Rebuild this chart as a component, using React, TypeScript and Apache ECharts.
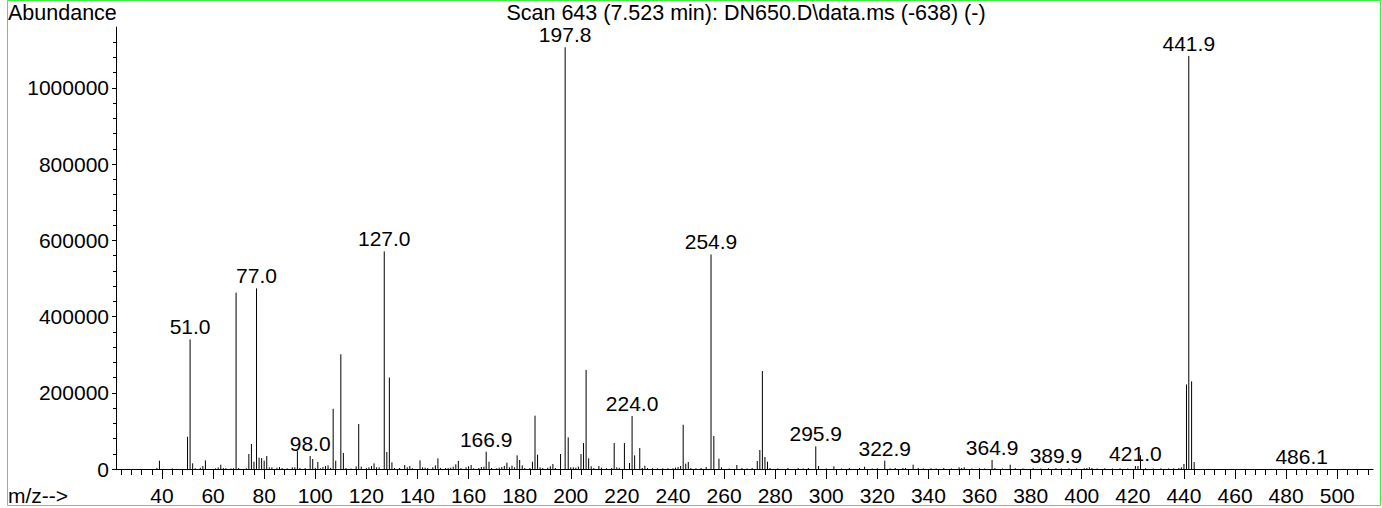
import React, { useEffect, useRef } from 'react';
import * as echarts from 'echarts';

// m/z of every stick in the spectrum
const mzValues = [
  38, 39, 44, 50, 51, 52, 53, 55, 56, 57, 61, 62, 63, 64, 65, 67, 68, 69, 70, 73,
  74, 75, 76, 77, 78, 79, 80, 81, 82, 83, 85, 86, 87, 89, 91, 92, 93, 94, 96, 98,
  99, 100, 101, 102, 103, 104, 105, 106, 107, 108, 110, 111, 112, 114, 116, 117, 118, 120, 121, 122,
  123, 124, 125, 127, 128, 129, 130, 131, 133, 135, 136, 137, 138, 141, 142, 143, 144, 146, 147, 148,
  149, 151, 152, 153, 154, 155, 156, 157, 159, 160, 161, 162, 164, 165, 166, 166.9, 168, 169, 171, 172,
  173, 174, 175, 176, 177, 178, 179, 180, 181, 182, 184, 185, 186, 187, 188, 189, 191, 192, 193, 194,
  196, 197.8, 199, 200, 201, 202, 203, 204, 205, 206, 207, 208, 209, 211, 212, 214, 216, 217, 218, 219,
  221, 223, 224, 225, 227, 228, 229, 230, 232, 234, 236, 238, 240, 241, 242, 243, 244, 245, 246, 247,
  249, 251, 253, 254.9, 256, 258, 259, 262, 265, 267, 269, 271, 273, 274, 275, 276, 277, 278, 281, 285,
  289, 291, 293, 295.9, 297, 300, 303, 306, 309, 313, 315, 318, 320, 322.9, 325, 327, 330, 331, 334, 336,
  338, 341, 343, 346, 349, 352, 353, 354, 357, 360, 362, 364.9, 366, 369, 372, 374, 377, 381, 384, 387,
  389.9, 392, 395, 398, 401, 402, 403, 404, 406, 409, 412, 415, 418, 421, 422, 423, 425, 428, 431, 434,
  436, 438, 439, 440, 441, 441.9, 443, 444, 486.1,
];

// abundance of each stick (same order as mzValues)
const abundances = [
  3000, 21800, 1500, 84700, 340000, 14800, 2000, 3000, 7800, 22700, 2000, 4000, 11300, 2500, 2500, 1500, 2000, 463000, 2500, 2000,
  39300, 65500, 19200, 474000, 29700, 28800, 21800, 34000, 4400, 4400, 3500, 5200, 2600, 2000, 4400, 4400, 47000, 2500, 2500, 34000,
  26200, 3000, 18300, 2000, 5200, 7800, 9600, 3000, 158000, 21800, 301000, 41900, 2600, 1500, 7000, 118000, 6100, 2600, 4400, 7800,
  14800, 4400, 4400, 571000, 44500, 240000, 17500, 2600, 2600, 10500, 4400, 7800, 2000, 22700, 4400, 3500, 2600, 4400, 9600, 27900,
  2600, 2600, 2600, 3500, 6100, 12200, 21000, 2600, 4400, 7000, 10500, 2000, 2600, 5200, 6100, 45400, 19200, 2600, 2000, 3500,
  5200, 7800, 16600, 4400, 8700, 4400, 35800, 23600, 9600, 2600, 2600, 19200, 140000, 37500, 4400, 2600, 3500, 7000, 13100, 2600,
  39300, 1107000, 82900, 4400, 4400, 3500, 6100, 39300, 68100, 260000, 27900, 7000, 2600, 7800, 3500, 2000, 2600, 68100, 4400, 3000,
  68100, 15700, 139000, 35800, 55000, 2600, 8700, 2600, 2000, 2000, 2000, 2000, 2000, 3500, 5200, 7800, 116000, 14000, 18300, 2600,
  2000, 2600, 5200, 563000, 86400, 27000, 4400, 1500, 10500, 2600, 1500, 2600, 21000, 49800, 257000, 31400, 19200, 2600, 1500, 2600,
  2600, 1500, 2600, 59400, 7800, 1500, 7000, 1500, 2600, 2600, 6100, 1500, 2000, 22000, 2000, 2600, 2600, 2600, 11300, 2600,
  1500, 2000, 1500, 2600, 1500, 4400, 2600, 4400, 1500, 2000, 1500, 23600, 2600, 1500, 11300, 2000, 1500, 2600, 1500, 2000,
  2500, 1500, 2000, 1500, 2000, 2600, 4400, 2600, 1500, 2000, 1500, 2000, 1500, 7800, 7800, 36000, 2000, 1500, 2000, 1500,
  2000, 2600, 4400, 13100, 222000, 1084000, 230000, 18300, 800,
];

// peaks that carry an m/z label
const labelledMz = [51, 77, 98, 127, 166.9, 197.8, 224, 254.9, 295.9, 322.9, 364.9, 389.9, 421, 441.9, 486.1];

const xTickValues = [40, 60, 80, 100, 120, 140, 160, 180, 200, 220, 240, 260, 280, 300, 320, 340, 360, 380, 400, 420, 440, 460, 480, 500];
const yTickValues = [0, 200000, 400000, 600000, 800000, 1000000];

const FONT = '"Liberation Sans", Arial, Helvetica, sans-serif';
const FS = 21;
const FS_HEAD = 21.5;

export default function App() {
  const ref = useRef<HTMLDivElement>(null);

  useEffect(() => {
    document.body.style.margin = '0';
    const chart = echarts.init(ref.current as HTMLDivElement, null, { renderer: 'svg' });
    const sticks = mzValues.map((m, i) => [m, abundances[i]]);
    const labelPoints = labelledMz.map((m) => [m, abundances[mzValues.indexOf(m)]]);

    chart.setOption({
      animation: false,
      grid: { left: 116, right: 9, top: 27, bottom: 39, containLabel: false, outerBoundsMode: 'none' },
      xAxis: {
        type: 'value',
        min: 22,
        max: 514,
        splitNumber: 25,
        minInterval: 20,
        maxInterval: 20,
        axisLine: { show: true, onZero: false, lineStyle: { color: '#000', width: 1 } },
        axisTick: { show: true, inside: false, length: 10, customValues: xTickValues, lineStyle: { color: '#000', width: 1 } },
        minorTick: { show: true, splitNumber: 5, length: 6, lineStyle: { color: '#000', width: 1 } },
        axisLabel: { show: true, customValues: xTickValues, margin: 16, color: '#000', fontSize: FS, fontFamily: FONT },
        splitLine: { show: false },
      },
      yAxis: {
        type: 'value',
        min: 0,
        max: 1160000,
        interval: 200000,
        axisLine: { show: true, lineStyle: { color: '#000', width: 1 } },
        axisTick: { show: true, inside: false, length: 4, customValues: yTickValues, lineStyle: { color: '#000', width: 1 } },
        minorTick: { show: true, splitNumber: 5, length: 3, lineStyle: { color: '#000', width: 1 } },
        axisLabel: {
          show: true,
          customValues: yTickValues,
          margin: 7,
          color: '#000',
          fontSize: FS,
          fontFamily: FONT,
          formatter: (v: number) => String(v),
        },
        splitLine: { show: false },
      },
      series: [
        {
          type: 'custom',
          data: sticks,
          encode: { x: 0, y: 1 },
          renderItem: (_params: any, api: any) => {
            const m = api.value(0);
            const a = api.value(1);
            const p0 = api.coord([m, 0]);
            const p1 = api.coord([m, a]);
            return {
              type: 'line',
              shape: { x1: p0[0], y1: p0[1], x2: p1[0], y2: p1[1] },
              style: { stroke: '#000', lineWidth: 1 },
            };
          },
        },
        {
          type: 'custom',
          data: labelPoints,
          encode: { x: 0, y: 1 },
          renderItem: (_params: any, api: any) => {
            const m = api.value(0);
            const a = api.value(1);
            const p = api.coord([m, a]);
            return {
              type: 'text',
              x: p[0],
              y: p[1] - 3.5,
              style: {
                text: Number(m).toFixed(1),
                fill: '#000',
                font: `${FS}px ${FONT}`,
                lineHeight: 18,
                textAlign: 'center',
                textVerticalAlign: 'bottom',
              },
            };
          },
        },
      ],
      graphic: [
        {
          type: 'rect',
          shape: { x: 7.5, y: 0.5, width: 1373, height: 505 },
          style: { fill: 'none', stroke: '#3ef03e', lineWidth: 1 },
          silent: true,
        },
        {
          type: 'text',
          x: 8,
          y: 3.5,
          style: {
            text: 'Abundance',
            fill: '#000',
            font: `${FS_HEAD}px ${FONT}`,
            lineHeight: 19,
            textAlign: 'left',
            textVerticalAlign: 'top',
          },
        },
        {
          type: 'text',
          x: 746,
          y: 3.5,
          style: {
            text: 'Scan 643 (7.523 min): DN650.D\\data.ms (-638) (-)',
            fill: '#000',
            font: `${FS_HEAD}px ${FONT}`,
            lineHeight: 19,
            textAlign: 'center',
            textVerticalAlign: 'top',
          },
        },
        {
          type: 'text',
          x: 8,
          y: 485,
          style: { text: 'm/z-->', fill: '#000', font: `${FS}px ${FONT}`, textAlign: 'left', textVerticalAlign: 'top' },
        },
      ],
    });

    return () => chart.dispose();
  }, []);

  return (
    <div
      ref={ref}
      style={{ position: 'fixed', left: 0, top: 0, width: 1382, height: 508, background: '#fff' }}
    />
  );
}
